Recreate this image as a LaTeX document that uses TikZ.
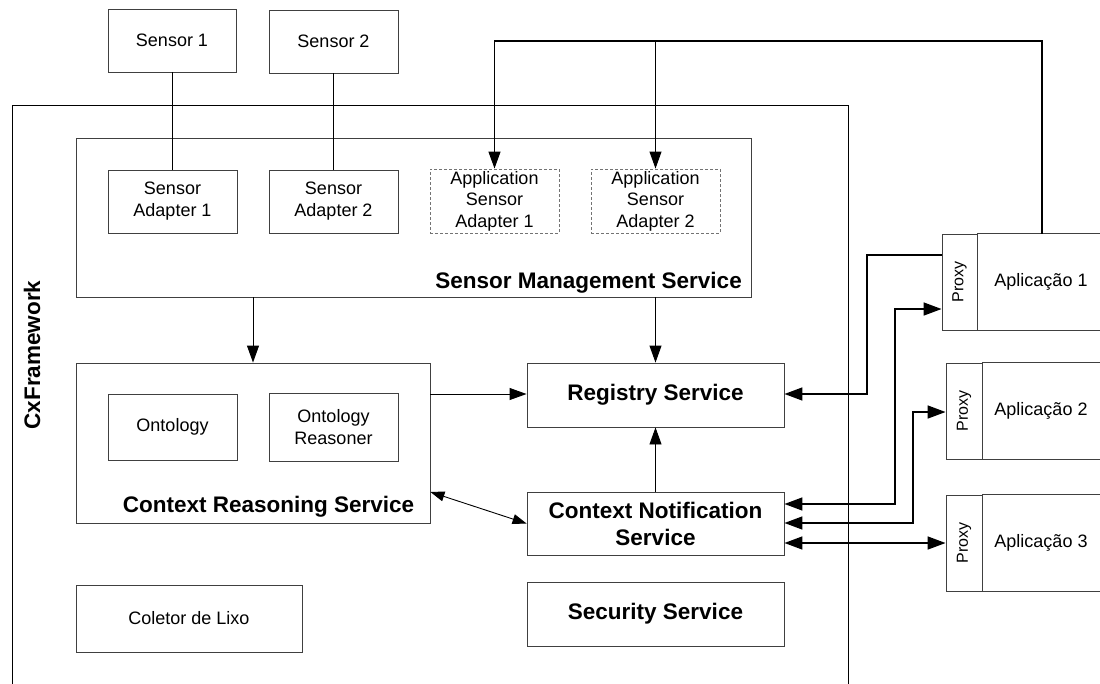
\documentclass[tikz,border=0pt]{standalone}
\usepackage{fontspec}
\usepackage{graphicx}
\setmainfont{Liberation Sans}
\usetikzlibrary{positioning,calc,arrows.meta}

\begin{document}
\begin{tikzpicture}[
    x=1pt, y=-1pt,
    box/.style={rectangle, draw=black!75, line width=0.9pt, inner sep=0pt, align=center,
        font=\fontsize{18}{22}\selectfont},
    appbox/.style={box, dashed, draw=black!55, dash pattern=on 3pt off 2pt},
    app/.style={box, draw=none, minimum width=128pt, minimum height=96pt},
    service/.style={box, font=\fontsize{22.5}{27}\selectfont\bfseries},
    title/.style={inner sep=0pt, font=\fontsize{22.5}{27}\selectfont\bfseries},
    proxy/.style={box, minimum width=36pt, minimum height=96pt, font=\fontsize{16}{18}\selectfont},
    arrow/.style={-{Triangle[length=17pt,width=12pt]}, line width=0.9pt},
    link/.style={line width=0.9pt},
    wire/.style={line width=1.6pt},
    both/.style={{Triangle[length=18pt,width=13pt]}-{Triangle[length=18pt,width=13pt]}, line width=1.6pt}
]
    \useasboundingbox (0,0) rectangle (1100,683);

    % Framework frame
    \draw[line width=1pt] (12,690) -- (12,105) -- (848,105) -- (848,690);
    \node[title, rotate=90] (cxf) at (32,355) {CxFramework};

    % Sensors
    \node[box, minimum width=128pt, minimum height=63pt] (sensor1) at (172,40.5) {Sensor 1};
    \node[box, minimum width=129pt, minimum height=63pt] (sensor2) at (333.5,41.5) {Sensor 2};

    % Sensor Management Service
    \node[box, minimum width=675pt, minimum height=159pt] (sms) at (413.5,217.5) {};
    \node[title, anchor=east] (smslabel) at (742,283) {Sensor Management Service};
    \node[box, minimum width=129pt, minimum height=63pt] (sa1) at (172.5,201.5) {Sensor\\Adapter 1};
    \node[box, minimum width=129pt, minimum height=63pt] (sa2) at (333.5,201.5) {Sensor\\Adapter 2};
    \node[appbox, minimum width=129pt, minimum height=64pt, font=\fontsize{18}{21.5}\selectfont] (asa1) at (494.5,201)
        {Application\\Sensor\\Adapter 1};
    \node[appbox, minimum width=129pt, minimum height=64pt, font=\fontsize{18}{21.5}\selectfont] (asa2) at (655.5,201)
        {Application\\Sensor\\Adapter 2};

    % Context Reasoning Service
    \node[box, minimum width=354pt, minimum height=160pt] (crs) at (253,443) {};
    \node[title] (crslabel) at (268.5,507) {Context Reasoning Service};
    \node[box, minimum width=129pt, minimum height=66pt] (onto) at (172.5,427) {Ontology};
    \node[box, minimum width=129pt, minimum height=68pt] (reasoner) at (333.5,427) {Ontology\\Reasoner};

    % Services
    \node[service, minimum width=257pt, minimum height=64pt] (registry) at (655.5,395) {Registry Service};
    \node[service, minimum width=257pt, minimum height=63pt] (cns) at (655.5,523.5) {Context Notification\\Service};
    \node[service, minimum width=257pt, minimum height=64pt] (security) at (655.5,614) {Security Service};
    \node[box, minimum width=226pt, minimum height=67pt] (coletor) at (189,618.5) {Coletor de Lixo};

    % Applications (open to the right)
    \node[proxy, minimum width=35pt] (proxya) at (959.5,282) {\rotatebox{90}{Proxy}};
    \node[app] (appa) at (1041,282) {Aplicação 1};
    \node[proxy] (proxyb) at (964,411) {\rotatebox{90}{Proxy}};
    \node[app] (appb) at (1041,411) {Aplicação 2};
    \node[proxy] (proxyc) at (964,543) {\rotatebox{90}{Proxy}};
    \node[app] (appc) at (1041,543) {Aplicação 3};
    \foreach \p in {proxya,proxyb,proxyc}
        \draw[line width=0.9pt, draw=black!75] (\p.north east) -- ++(160,0) (\p.south east) -- ++(160,0);

    % Connectors
    \draw[link] (sensor1.south) -- (sa1.north -| sensor1.south);
    \draw[link] (sensor2.south) -- (sa2.north -| sensor2.south);
    \draw[arrow, line width=1.3pt] (proxya.north -| 1042,0) -- (1042,41) -| (asa1.north);
    \draw[arrow] (asa2.north |- 0,41) -- (asa2.north);
    \draw[arrow] (sms.south -| 253,0) -- (crs.north -| 253,0);
    \draw[arrow] (sms.south -| registry.north) -- (registry.north);
    \draw[arrow] (crs.east |- 0,394) -- (registry.west |- 0,394);
    \draw[arrow] (cns.north) -- (registry.south);
    \draw[{Triangle[length=14pt,width=10pt]}-{Triangle[length=14pt,width=10pt]}, link]
        (crs.east |- 0,492) -- (cns.west);
    \draw[wire, -{Triangle[length=18pt,width=13pt]}] (proxya.west |- 0,255) -- (867,255) |- (registry.east |- 0,394);
    \draw[both] (cns.east |- 0,504) -- (895,504) |- (proxya.west |- 0,309);
    \draw[both] (cns.east |- 0,523) -- (913,523) |- (proxyb.west |- 0,412);
    \draw[both] (cns.east |- 0,543) -- (proxyc.west);
\end{tikzpicture}
\end{document}
